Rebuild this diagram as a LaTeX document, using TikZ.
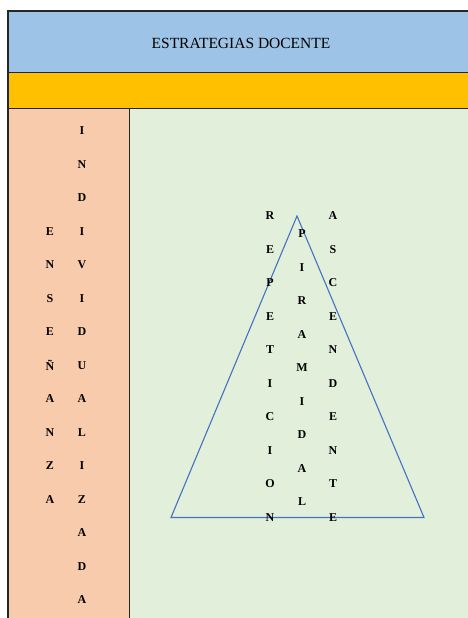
\documentclass[tikz,border=0pt]{standalone}
\usepackage{fontspec}
\setmainfont{Liberation Serif}
\usetikzlibrary{positioning}
\definecolor{headBlue}{HTML}{9DC3E6}
\definecolor{bandOrange}{HTML}{FFC000}
\definecolor{sidePeach}{HTML}{F8CBAD}
\definecolor{fieldGreen}{HTML}{E2EFDA}
\definecolor{pyramidBlue}{HTML}{4472C4}

\begin{document}
\begin{tikzpicture}[x=1pt, y=-1pt,
    cell/.style={draw=black!85, line width=1pt},
    letter/.style={font=\fontsize{12}{14}\selectfont\bfseries, inner sep=0pt, anchor=center},
    pyramid/.style={draw=pyramidBlue, line width=1.1pt, line join=miter}]
    \useasboundingbox (0,0) rectangle (468,618);
    \clip (0,0) rectangle (468,618);
    \fill[white] (0,0) rectangle (468,618);
    % table cells
    \draw[cell, fill=headBlue] (8,11) rectangle (480,72);
    \draw[cell, fill=bandOrange] (8,72) rectangle (480,108);
    \draw[cell, fill=sidePeach] (8,108) rectangle (129,630);
    \draw[cell, fill=fieldGreen] (129,108) rectangle (480,630);
    \draw[black!85, line width=1.5pt] (8,630) -- (8,11) -- (480,11);
    \node[font=\fontsize{15.5}{18}\selectfont] (title) at (241,43) {ESTRATEGIAS DOCENTE};
    % left column
    \foreach \ch [count=\i] in {I,N,D,I,V,I,D,U,A,L,I,Z,A,D,A}
      \node[letter] (ind\i) at (82,{131+(\i-1)*33.5}) {\ch};
    \foreach \ch [count=\i] in {E,N,S,E,Ñ,A,N,Z,A}
      \node[letter] (ens\i) at (50,{231.5+(\i-1)*33.5}) {\ch};
    % pyramid
    \draw[pyramid] (297,216) -- (424,517.5) -- (171,517.5) -- cycle;
    \foreach \ch [count=\i] in {R,E,P,E,T,I,C,I,O,N}
      \node[letter] (rep\i) at (270,{216+(\i-1)*33.5}) {\ch};
    \foreach \ch [count=\i] in {P,I,R,A,M,I,D,A,L}
      \node[letter] (pir\i) at (302,{234+(\i-1)*33.5}) {\ch};
    \foreach \ch [count=\i] in {A,S,C,E,N,D,E,N,T,E}
      \node[letter] (asc\i) at (333,{216+(\i-1)*33.5}) {\ch};
\end{tikzpicture}
\end{document}
